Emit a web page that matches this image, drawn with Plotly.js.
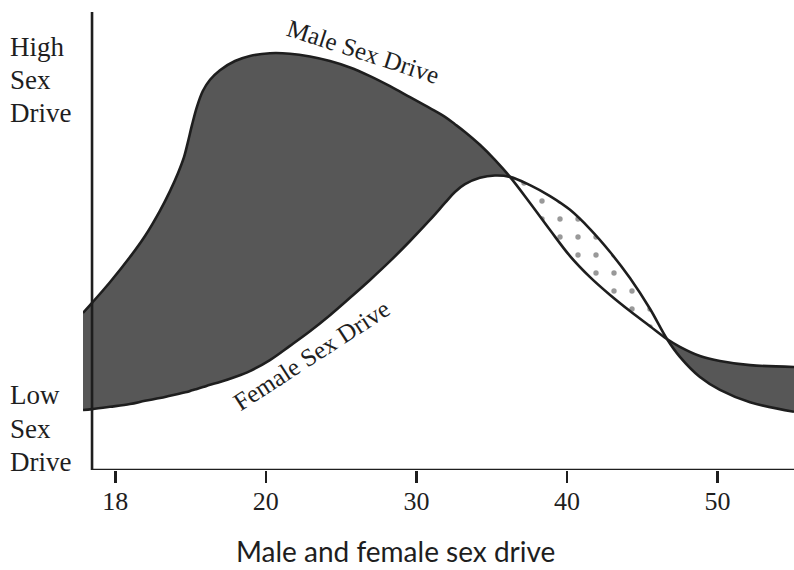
<!DOCTYPE html>
<html>
<head>
<meta charset="utf-8">
<script src="https://cdn.plot.ly/plotly-3.0.1.min.js"></script>
<style>html,body{margin:0;padding:0;background:#fff;}#chart{width:794px;height:570px;}</style>
</head>
<body>
<div id="chart"></div>
<script>
// Horizontal position along the age axis, in tick-index units (18 -> 0, 20 -> 1, 30 -> 2, 40 -> 3, 50 -> 4)
const xPos = [-0.215, -0.155, -0.036, 0.097, 0.197, 0.296, 0.363, 0.416, 0.456, 0.482,
              0.509, 0.542, 0.582, 0.629, 0.695, 0.795, 0.894, 1.027, 1.160, 1.293,
              1.426, 1.559, 1.692, 1.825, 1.958, 2.090, 2.190, 2.256, 2.323, 2.422,
              2.522, 2.622, 2.755, 2.888, 3.021, 3.154, 3.287, 3.419, 3.552, 3.665,
              3.751, 3.884, 4.017, 4.217, 4.509];
// Sex drive level (0 = bottom of axis, 100 = top)
const maleDrive = [34.3, 36.5, 41.0, 46.5, 51.1, 56.6, 60.9, 64.8, 68.3, 71.6,
                   75.3, 79.3, 82.8, 85.2, 87.3, 89.3, 90.4, 91.0, 90.9, 90.3,
                   89.3, 87.9, 86.0, 83.8, 81.4, 79.0, 77.1, 75.5, 73.8, 71.0,
                   67.7, 64.0, 58.3, 52.4, 46.7, 42.1, 38.2, 34.7, 31.4, 28.6,
                   26.9, 24.9, 23.8, 22.9, 22.5];
const femaleDrive = [13.1, 13.3, 13.8, 14.4, 15.1, 15.7, 16.2, 16.6, 16.9, 17.1,
                     17.4, 17.7, 18.1, 18.6, 19.2, 20.3, 21.6, 24.0, 27.1, 30.3,
                     33.8, 37.6, 41.5, 45.6, 50.0, 54.6, 58.3, 60.7, 62.4, 63.8,
                     64.3, 64.0, 62.2, 59.8, 56.8, 52.6, 47.6, 41.9, 35.2, 28.6,
                     24.7, 20.3, 17.5, 14.8, 12.7];
const tickLabels = ['18', '20', '30', '40', '50'];
const tickIndex = [0, 1, 2, 3, 4];

const ink = '#1e1e1e';
const serif = 'Liberation Serif, Times New Roman, serif';
const sm = 1.0;

// lens where female drive exceeds male drive
const lensIdx = xPos.map((_, i) => i).filter(i => femaleDrive[i] >= maleDrive[i]);
const lx = lensIdx.map(i => xPos[i]);
const lf = lensIdx.map(i => femaleDrive[i]);
const lm = lensIdx.map(i => maleDrive[i]);

const traces = [
  {x: xPos, y: femaleDrive, mode: 'lines', line: {width: 0, shape: 'spline', smoothing: sm}, hoverinfo: 'skip', showlegend: false},
  {x: xPos, y: maleDrive, mode: 'lines', fill: 'tonexty', fillcolor: '#575757', line: {width: 0, shape: 'spline', smoothing: sm}, hoverinfo: 'skip', showlegend: false},
  {x: lx, y: lf, mode: 'lines', line: {width: 0, shape: 'spline', smoothing: sm}, hoverinfo: 'skip', showlegend: false},
  {x: lx, y: lm, mode: 'lines', fill: 'tonexty', fillcolor: '#ffffff',
   fillpattern: {shape: '.', bgcolor: '#ffffff', fgcolor: '#999999', size: 18, solidity: 0.07},
   line: {width: 0, shape: 'spline', smoothing: sm}, hoverinfo: 'skip', showlegend: false},
  {x: xPos, y: femaleDrive, mode: 'lines', name: 'Female Sex Drive', line: {color: ink, width: 2.6, shape: 'spline', smoothing: sm}, showlegend: false},
  {x: xPos, y: maleDrive, mode: 'lines', name: 'Male Sex Drive', line: {color: ink, width: 2.6, shape: 'spline', smoothing: sm}, showlegend: false}
];

const yLab = (text, y) => ({text: text, xref: 'paper', yref: 'paper', x: -0.1055, y: y,
  xanchor: 'left', yanchor: 'middle', showarrow: false, font: {family: serif, size: 27, color: ink}});

const layout = {
  width: 794, height: 570,
  margin: {l: 83, r: 0, t: 12, b: 100},
  paper_bgcolor: '#ffffff', plot_bgcolor: '#ffffff',
  showlegend: false,
  xaxis: {
    range: [-0.215, 4.509], tickmode: 'array', tickvals: tickIndex, ticktext: tickLabels,
    ticks: 'outside', ticklen: 12, tickwidth: 2.5, tickcolor: ink, ticklabelstandoff: -4,
    showgrid: false, zeroline: false, showline: false,
    tickfont: {family: serif, size: 26, color: ink}
  },
  yaxis: {range: [0, 100], showgrid: false, zeroline: false, showline: false, showticklabels: false, ticks: ''},
  shapes: [
    {type: 'line', xref: 'x', yref: 'y', x0: -0.155, x1: -0.155, y0: 0, y1: 100, line: {color: ink, width: 2.6}},
    {type: 'line', xref: 'x', yref: 'y', x0: -0.155, x1: 4.509, y0: 0, y1: 0, line: {color: ink, width: 2.6}}
  ],
  annotations: [
    yLab('High', 0.9236), yLab('Sex', 0.8515), yLab('Drive', 0.7795),
    yLab('Low', 0.1638), yLab('Sex', 0.0895), yLab('Drive', 0.0175),
    {text: 'Male Sex Drive', xref: 'x', yref: 'y', x: 1.645, y: 91.3, textangle: 18, showarrow: false,
     font: {family: serif, size: 25, color: ink}},
    {text: 'Female Sex Drive', xref: 'x', yref: 'y', x: 1.300, y: 25.1, textangle: -33, showarrow: false,
     font: {family: serif, size: 25, color: ink}},
    {text: 'Male and female sex drive', xref: 'paper', yref: 'paper', x: 0.439, y: -0.2183,
     xanchor: 'center', yanchor: 'bottom', showarrow: false,
     font: {family: 'Lato, Open Sans, sans-serif', size: 28, color: ink}}
  ]
};

Plotly.newPlot('chart', traces, layout, {displayModeBar: false, staticPlot: true});
</script>
</body>
</html>
